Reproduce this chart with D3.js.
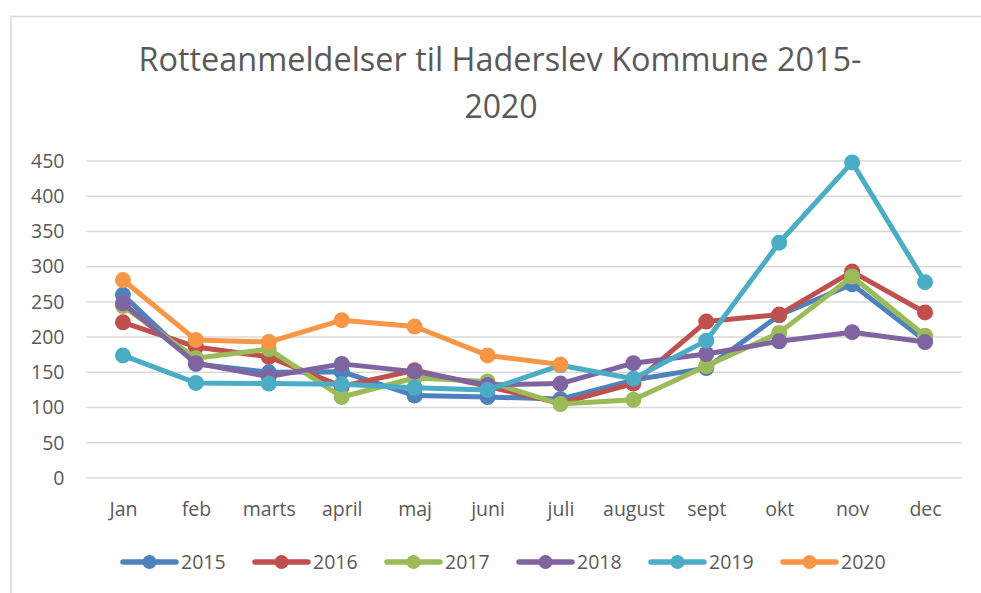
<!DOCTYPE html>
<html>
<head>
<meta charset="utf-8">
<script src="https://cdn.jsdelivr.net/npm/d3@7"></script>
<style>
  body { margin: 0; background: #fff; }
  svg { display: block; font-family: "Open Sans", sans-serif; }
</style>
</head>
<body>
<svg></svg>
<script>
// Data
const months = ["Jan", "feb", "marts", "april", "maj", "juni", "juli", "august", "sept", "okt", "nov", "dec"];
const years = ["2015", "2016", "2017", "2018", "2019", "2020"];
const v2015 = [260, 162, 150, 151, 117, 115, 112, 139, 156, 231, 275, 195];
const v2016 = [221, 186, 172, 130, 153, 130, 106, 134, 222, 232, 293, 235];
const v2017 = [244, 170, 183, 115, 142, 137, 105, 111, 159, 206, 286, 202];
const v2018 = [248, 163, 144, 162, 151, 132, 134, 163, 176, 194, 207, 193];
const v2019 = [174, 135, 134, 133, 128, 125, 160, 141, 195, 334, 448, 278];
const v2020 = [281, 196, 193, 224, 215, 174, 161];
const yTicks = [0, 50, 100, 150, 200, 250, 300, 350, 400, 450];
const colors = ["#4F81BD", "#C0504D", "#9BBB59", "#8064A2", "#4BACC6", "#F79646"];

const series = [v2015, v2016, v2017, v2018, v2019, v2020].map((vals, i) => ({
  name: years[i],
  color: colors[i],
  values: vals.map((v, j) => ({month: months[j], value: v}))
}));

const W = 981, H = 593;
const margin = {top: 161, right: 19.5, bottom: 115, left: 86.5},
    width = W - margin.left - margin.right,
    height = H - margin.top - margin.bottom;

const root = d3.select("svg")
    .attr("width", W)
    .attr("height", H);

// chart frame
root.append("rect")
    .attr("x", 11).attr("y", 16.5)
    .attr("width", 990).attr("height", 600)
    .attr("fill", "none")
    .attr("stroke", "#d9d9d9")
    .attr("stroke-width", 1.5);

// title
const title = root.append("text")
    .attr("text-anchor", "middle")
    .attr("fill", "#595959")
    .style("font-size", "32px");
title.append("tspan").attr("x", 500).attr("y", 71)
    .attr("textLength", 723)
    .attr("lengthAdjust", "spacingAndGlyphs")
    .text("Rotteanmeldelser til Haderslev Kommune 2015-");
title.append("tspan").attr("x", 501).attr("y", 118).text("2020");

const svg = root.append("g")
    .attr("transform", `translate(${margin.left},${margin.top})`);

const x = d3.scalePoint()
    .domain(months)
    .range([0, width])
    .padding(0.5);

const y = d3.scaleLinear()
    .domain([0, 450])
    .range([height, 0]);

// gridlines
svg.append("g")
    .selectAll("line")
    .data(yTicks)
    .enter()
    .append("line")
      .attr("x1", 0).attr("x2", width)
      .attr("y1", d => y(d)).attr("y2", d => y(d))
      .attr("stroke", "#d9d9d9")
      .attr("stroke-width", 1.5);

// Y axis labels
const yAxis = svg.append("g")
    .call(d3.axisLeft(y).tickValues(yTicks).tickSize(0).tickPadding(22));
yAxis.select(".domain").remove();
yAxis.selectAll("text")
    .attr("fill", "#595959")
    .style("font-size", "19.5px")
    .style("font-family", "'Open Sans', sans-serif");

// X axis labels
const xAxis = svg.append("g")
    .attr("transform", `translate(0,${height})`)
    .call(d3.axisBottom(x).tickSize(0).tickPadding(24));
xAxis.select(".domain").remove();
xAxis.selectAll("text")
    .attr("fill", "#595959")
    .style("font-size", "19.5px")
    .style("font-family", "'Open Sans', sans-serif");

const line = d3.line()
    .x(d => x(d.month))
    .y(d => y(d.value));

const groups = svg.selectAll(".series")
    .data(series)
    .enter()
    .append("g")
      .attr("class", "series");

groups.append("path")
    .attr("d", d => line(d.values))
    .attr("fill", "none")
    .attr("stroke", d => d.color)
    .attr("stroke-width", 5)
    .attr("stroke-linejoin", "round")
    .attr("stroke-linecap", "round");

groups.selectAll("circle")
    .data(d => d.values.map(p => ({...p, color: d.color})))
    .enter()
    .append("circle")
      .attr("cx", d => x(d.month))
      .attr("cy", d => y(d.value))
      .attr("r", 8)
      .attr("fill", d => d.color);

// legend
const legend = root.append("g")
    .attr("transform", "translate(121,562)");

const item = legend.selectAll("g")
    .data(series)
    .enter()
    .append("g")
      .attr("transform", (d, i) => `translate(${i * 132},0)`);

item.append("line")
    .attr("x1", 2).attr("x2", 55)
    .attr("stroke", d => d.color)
    .attr("stroke-width", 5.5)
    .attr("stroke-linecap", "round");

item.append("circle")
    .attr("cx", 28.5)
    .attr("r", 7)
    .attr("fill", d => d.color);

item.append("text")
    .attr("x", 60)
    .attr("dy", "0.35em")
    .attr("fill", "#595959")
    .style("font-size", "19.5px")
    .text(d => d.name);
</script>
</body>
</html>
